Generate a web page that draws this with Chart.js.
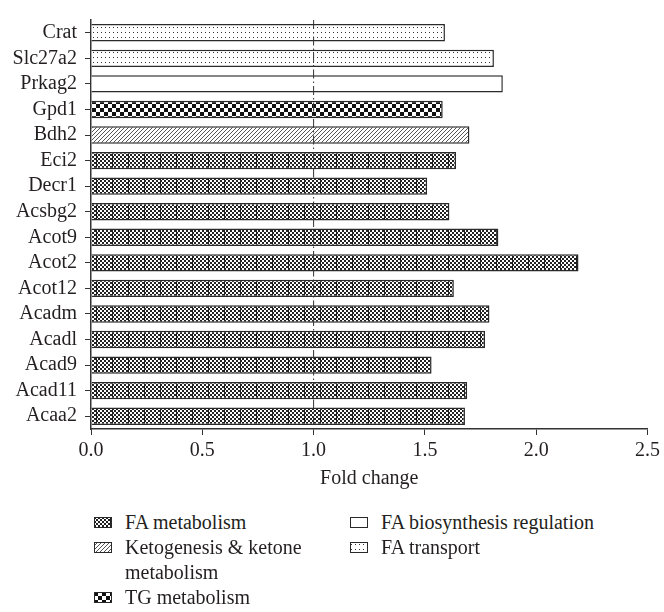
<!DOCTYPE html>
<html>
<head>
<meta charset="utf-8">
<script src="https://cdn.jsdelivr.net/npm/chart.js@4.4.0/dist/chart.umd.min.js"></script>
<style>
  body { margin: 0; background: #fff; }
  #wrap { position: relative; width: 664px; height: 612px; font-family: "Liberation Serif", serif; color: #231f20; }
  #chartBox { position: absolute; left: 0; top: 0; width: 664px; height: 495px; }
  .leg { position: absolute; display: flex; align-items: flex-start; font-size: 20px; line-height: 25px; }
  .leg canvas { margin-top: 7px; margin-right: 13px; flex: none; }
  .leg span { white-space: nowrap; }
  .leg span.wrap { white-space: normal; width: 205px; }
</style>
</head>
<body>
<div id="wrap">
  <div id="chartBox"><canvas id="foldChart"></canvas></div>
  <div id="legend"></div>
</div>
<script>
// ---------- data ----------
const genes = ["Crat", "Slc27a2", "Prkag2", "Gpd1", "Bdh2", "Eci2", "Decr1", "Acsbg2",
  "Acot9", "Acot2", "Acot12", "Acadm", "Acadl", "Acad9", "Acad11", "Acaa2"];
const foldChange = [1.59, 1.81, 1.85, 1.58, 1.70, 1.64, 1.51, 1.61,
  1.83, 2.19, 1.63, 1.79, 1.77, 1.53, 1.69, 1.68];
// index into groupNames for every gene
const geneGroup = [4, 4, 3, 2, 1, 0, 0, 0, 0, 0, 0, 0, 0, 0, 0, 0];
const groupNames = ["FA metabolism", "Ketogenesis & ketone metabolism", "TG metabolism",
  "FA biosynthesis regulation", "FA transport"];
const xMin = 0, xMax = 2.5, xStep = 0.5;
const refLine = 1.0;

// ---------- fill patterns ----------
function makePattern(kind) {
  const c = document.createElement("canvas");
  const g = c.getContext("2d");
  if (kind === 0) { // fine checks + vertical rules
    c.width = 16; c.height = 4;
    g.fillStyle = "#fff"; g.fillRect(0, 0, 16, 4);
    g.fillStyle = "#222";
    for (let i = 0; i < 8; i++)
      for (let j = 0; j < 2; j++)
        if ((i + j) % 2 === 0) g.fillRect(i * 2, j * 2, 2, 2);
    g.fillRect(0, 0, 1, 4);
  } else if (kind === 1) { // diagonal hatch
    c.width = 4; c.height = 4;
    g.fillStyle = "#fff"; g.fillRect(0, 0, 4, 4);
    g.strokeStyle = "#555"; g.lineWidth = 1;
    g.beginPath();
    g.moveTo(0, 4); g.lineTo(4, 0);
    g.moveTo(-1, 1); g.lineTo(1, -1);
    g.moveTo(3, 5); g.lineTo(5, 3);
    g.stroke();
  } else if (kind === 2) { // big checks
    c.width = 8; c.height = 8;
    g.fillStyle = "#fff"; g.fillRect(0, 0, 8, 8);
    g.fillStyle = "#111";
    g.fillRect(0, 0, 4, 4); g.fillRect(4, 4, 4, 4);
  } else if (kind === 3) { // plain
    c.width = 4; c.height = 4;
    g.fillStyle = "#fff"; g.fillRect(0, 0, 4, 4);
  } else { // dots
    c.width = 4; c.height = 5;
    g.fillStyle = "#fff"; g.fillRect(0, 0, 4, 5);
    g.fillStyle = "#333"; g.fillRect(1, 2, 1, 1);
  }
  return g.createPattern(c, "repeat");
}
const groupFills = groupNames.map((n, i) => makePattern(i));

// ---------- reference line at 1.0 ----------
const refLinePlugin = {
  id: "refLine",
  afterDatasetsDraw(chart) {
    const { ctx, chartArea, scales } = chart;
    const x = scales.x.getPixelForValue(refLine);
    ctx.save();
    ctx.strokeStyle = "#333";
    ctx.lineWidth = 1;
    ctx.setLineDash([9, 3, 1.5, 3]);
    ctx.beginPath();
    ctx.moveTo(x, chartArea.top);
    ctx.lineTo(x, chartArea.bottom);
    ctx.stroke();
    ctx.restore();
  },
};

const font = { family: "'Liberation Serif', serif", size: 20 };
const ink = "#231f20";

new Chart(document.getElementById("foldChart"), {
  type: "bar",
  data: {
    labels: genes,
    datasets: [
      {
        data: foldChange,
        backgroundColor: geneGroup.map((g) => groupFills[g]),
        borderColor: "#2a2a2a",
        borderWidth: 1.5,
        barPercentage: 0.68,
        categoryPercentage: 1.0,
      },
    ],
  },
  options: {
    indexAxis: "y",
    responsive: true,
    maintainAspectRatio: false,
    animation: false,
    layout: { padding: { top: 7, right: 15, left: 0, bottom: 0 } },
    plugins: { legend: { display: false }, tooltip: { enabled: false } },
    scales: {
      x: {
        min: xMin,
        max: xMax,
        ticks: { stepSize: xStep, font: font, color: ink, padding: 4, callback: (v) => v.toFixed(1) },
        grid: { drawOnChartArea: false, tickLength: 6, color: "#333" },
        border: { color: "#333", width: 1.5 },
        title: { display: true, text: "Fold change", font: font, color: ink, padding: { top: 0, bottom: 4 } },
        afterFit: (s) => { s.height = 66; },
      },
      y: {
        ticks: { font: font, color: ink, padding: 8, autoSkip: false },
        grid: { drawOnChartArea: false, offset: false, tickLength: 6, color: "#333" },
        border: { color: "#333", width: 1.5 },
        afterFit: (s) => { s.width = 91; },
      },
    },
  },
  plugins: [refLinePlugin],
});

// ---------- legend ----------
const legendPos = [
  { left: 94, top: 510 },
  { left: 94, top: 535 },
  { left: 94, top: 585 },
  { left: 350, top: 510 },
  { left: 350, top: 535 },
];
const legendBox = document.getElementById("legend");
groupNames.forEach((name, i) => {
  const item = document.createElement("div");
  item.className = "leg";
  item.style.left = legendPos[i].left + "px";
  item.style.top = legendPos[i].top + "px";
  const sw = document.createElement("canvas");
  sw.width = 18; sw.height = 11;
  const g = sw.getContext("2d");
  g.fillStyle = groupFills[i];
  g.fillRect(0, 0, 18, 11);
  g.strokeStyle = "#2a2a2a";
  g.lineWidth = 1;
  g.strokeRect(0.5, 0.5, 17, 10);
  const txt = document.createElement("span");
  txt.textContent = name;
  if (i === 1) txt.className = "wrap";
  item.appendChild(sw);
  item.appendChild(txt);
  legendBox.appendChild(item);
});
</script>
</body>
</html>
